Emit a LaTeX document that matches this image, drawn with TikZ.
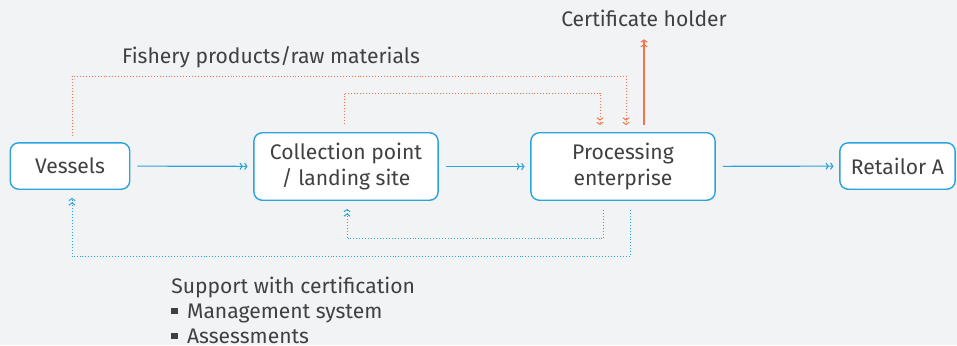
\documentclass[tikz,border=0pt]{standalone}
\usepackage{fontspec}
\setmainfont{Fira Sans}
\usetikzlibrary{arrows.meta}
\definecolor{bgray}{HTML}{F2F3F5}
\definecolor{boxblue}{HTML}{2BA3DC}
\definecolor{flowred}{HTML}{F37448}
\definecolor{txtgray}{HTML}{404040}

\newcommand{\sqbul}{\rule[0.22em]{0.3em}{0.3em}\hspace{0.45em}}

\begin{document}
\begin{tikzpicture}[x=0.025cm, y=-0.025cm,
		tip/.style={-{Straight Barb[length=1.6pt,width=4.5pt,sep=0.8pt]Straight Barb[length=1.6pt,width=4.5pt]}},
		box/.style={draw=boxblue, line width=1pt, fill=white, rounded corners=6pt, align=center,
			text=txtgray, font=\fontsize{15}{18.5}\selectfont, inner sep=0pt},
		label/.style={text=txtgray, font=\fontsize{15}{18.5}\selectfont, inner sep=0pt},
		flow/.style={boxblue, line width=0.8pt, tip},
		back/.style={boxblue, line width=0.7pt, dash pattern=on 0.7pt off 1.4pt, tip},
		raw/.style={flowred, line width=0.7pt, dash pattern=on 0.7pt off 1.4pt, tip}]
		\fill[bgray] (0, 0) rectangle (957, 345);
		\useasboundingbox (0, 0) rectangle (957, 345);
		
		\node[box, minimum width=85pt, minimum height=33pt] (vessels) at (70, 166) {Vessels};
		\node[box, minimum width=131pt, minimum height=48pt] (collect) at (346, 166.5) {Collection point\\/ landing site};
		\node[box, minimum width=131pt, minimum height=48pt] (process) at (623, 166.5) {Processing\\enterprise};
		\node[box, minimum width=82pt, minimum height=33pt] (retail) at (897.5, 166) {Retailor A};
		
		\node[label] (holder) at (644, 18) {Certificate holder};
		\node[label] (fishery) at (271, 57) {Fishery products/raw materials};
		\node[label, align=left, anchor=north west, font=\fontsize{15}{17.8}\selectfont] (support) at (171, 277)
			{Support with certification\\
			\sqbul Management system\\
			\sqbul Assessments};
		
		\draw[flow, shorten <=5pt, shorten >=4pt] (vessels) -- (collect);
		\draw[flow, shorten <=5pt, shorten >=4pt] (collect) -- (process);
		\draw[flow, shorten <=5pt, shorten >=4pt] (process) -- (retail);
		
		\draw[raw] ([shift={(2, -6)}]vessels.north) -- ++(0, -60) -| ([shift={(3, -7)}]process.north);
		\draw[raw] ([shift={(-2, -8)}]collect.north) -- ++(0, -31) -| ([shift={(-23, -7)}]process.north);
		\draw[flowred, line width=0.8pt, tip] ([shift={(21, -7)}]process.north) -- ([yshift=-9pt]holder.south);
		
		\draw[back] ([shift={(-20, 9)}]process.south) -- ++(0, 29) -| ([shift={(1, 8)}]collect.south);
		\draw[back] ([shift={(7, 9)}]process.south) -- ++(0, 47) -| ([shift={(2, 8)}]vessels.south);
\end{tikzpicture}
\end{document}
